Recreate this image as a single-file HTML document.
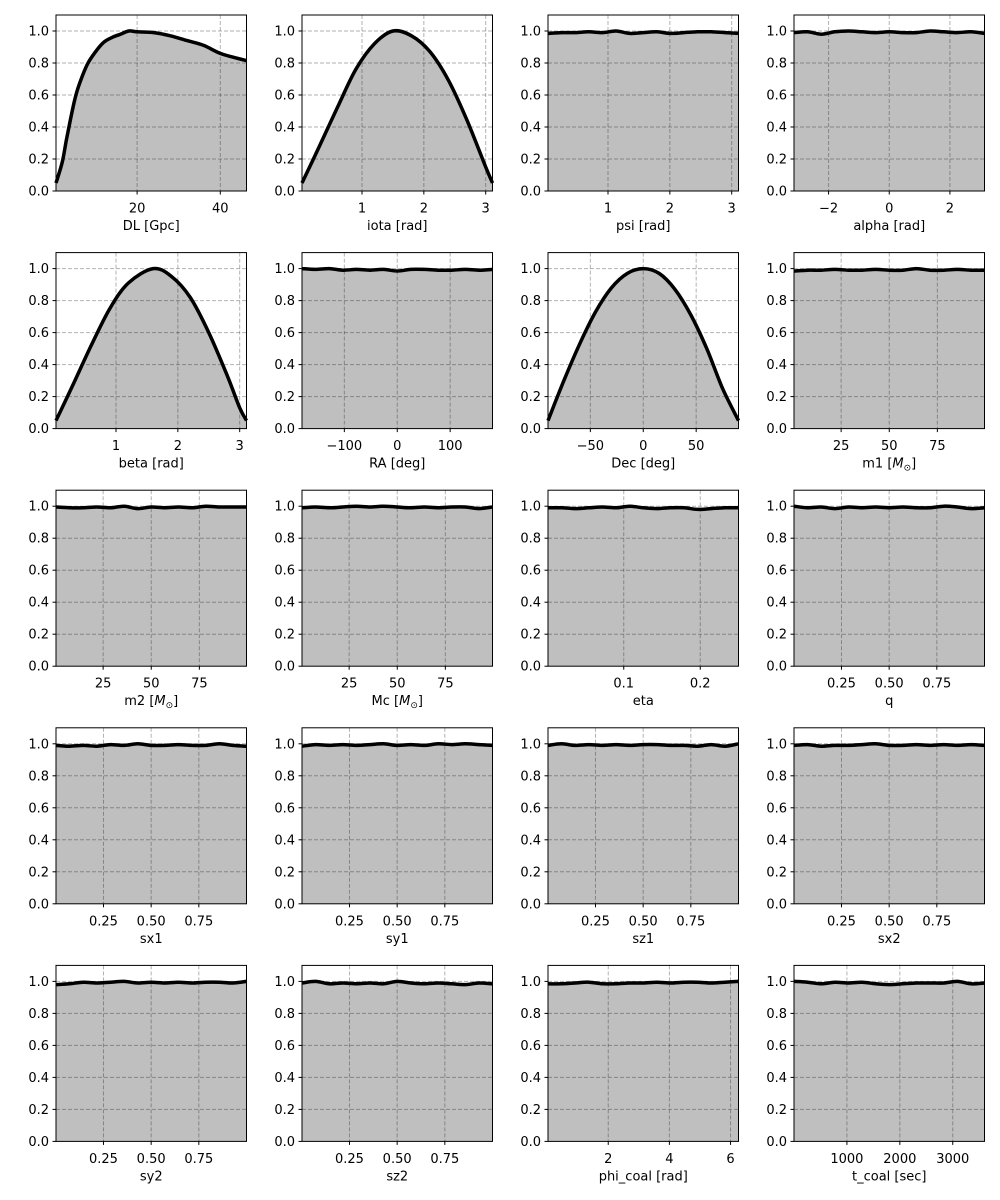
<!DOCTYPE html>
<html><head><meta charset="utf-8">
<style>
html,body{margin:0;padding:0;background:#fff;}
svg{display:block;font-family:"DejaVu Sans","Liberation Sans",sans-serif;}
</style></head>
<body>
<svg id="fig" width="1000" height="1200" viewBox="0 0 1000 1200" xmlns="http://www.w3.org/2000/svg"></svg>
<script>
// ---- data ----
const panelLabels = ["DL [Gpc]","iota [rad]","psi [rad]","alpha [rad]","beta [rad]","RA [deg]","Dec [deg]","m1","m2","Mc","eta","q","sx1","sy1","sz1","sx2","sy2","sz2","phi_coal [rad]","t_coal [sec]"];
const panelDomains = [[0.5,46.3],[0.03,3.11],[0.03,3.11],[-3.14,3.14],[0.03,3.11],[-180,180],[-90,90],[0.5,99.5],[0.5,99.5],[0.5,99.5],[0.001,0.25],[0.001,1],[0.001,1],[0.001,1],[0.001,1],[0.001,1],[0.001,1],[0.001,1],[0.03,6.26],[0,3600]];
const panelTicks = [[20,40],[1,2,3],[1,2,3],[-2,0,2],[1,2,3],[-100,0,100],[-50,0,50],[25,50,75],[25,50,75],[25,50,75],[0.1,0.2],[0.25,0.5,0.75],[0.25,0.5,0.75],[0.25,0.5,0.75],[0.25,0.5,0.75],[0.25,0.5,0.75],[0.25,0.5,0.75],[0.25,0.5,0.75],[2,4,6],[1000,2000,3000]];
const panelTickText = [["20","40"],["1","2","3"],["1","2","3"],["\u22122","0","2"],["1","2","3"],["\u2212100","0","100"],["\u221250","0","50"],["25","50","75"],["25","50","75"],["25","50","75"],["0.1","0.2"],["0.25","0.50","0.75"],["0.25","0.50","0.75"],["0.25","0.50","0.75"],["0.25","0.50","0.75"],["0.25","0.50","0.75"],["0.25","0.50","0.75"],["0.25","0.50","0.75"],["2","4","6"],["1000","2000","3000"]];
const dlX = [0.5,2,3,4,5,6,8,10,12,14,16,18,20,24,28,32,36,40,44,46.3];
const dlY = [0.05,0.18,0.32,0.45,0.57,0.66,0.79,0.87,0.93,0.96,0.98,1.0,0.995,0.99,0.97,0.94,0.91,0.86,0.83,0.815];
const iotaX = [0.03,0.3,0.6,0.9,1.2,1.5,1.8,2.1,2.4,2.7,3.0,3.11];
const iotaY = [0.05,0.27,0.52,0.76,0.92,1.0,0.97,0.87,0.69,0.44,0.15,0.05];
const betaX = [0.03,0.3,0.6,0.9,1.2,1.6,1.9,2.2,2.5,2.8,3.0,3.11];
const betaY = [0.05,0.27,0.52,0.75,0.91,1.0,0.95,0.82,0.6,0.33,0.13,0.05];
const decX = [-90,-75,-60,-45,-30,-15,0,15,30,45,60,75,90];
const decY = [0.05,0.3,0.53,0.73,0.88,0.97,1.0,0.97,0.87,0.71,0.5,0.25,0.05];
const flatY = [
 [0.985,0.99,0.99,0.995,0.99,1.0,0.985,0.99,0.995,0.985,0.99,0.995,0.995,0.99,0.985],
 [0.99,0.995,0.98,0.995,1.0,0.995,0.99,0.995,0.99,0.99,1.0,0.995,0.99,0.995,0.985],
 [1.0,0.995,1.0,0.99,0.995,0.99,0.995,0.985,0.995,0.995,0.99,0.99,0.995,0.99,0.995],
 [0.985,0.99,0.99,0.995,0.99,0.99,0.995,0.99,0.99,1.0,0.99,0.99,0.995,0.99,0.99],
 [0.995,0.99,0.99,0.995,0.99,1.0,0.985,0.995,0.99,0.995,0.99,1.0,0.995,0.995,0.995],
 [0.99,0.995,0.99,0.995,1.0,0.995,1.0,0.995,0.99,0.995,0.99,0.995,0.995,0.985,0.995],
 [0.99,0.99,0.985,0.99,0.995,0.99,1.0,0.99,0.985,0.99,0.99,0.98,0.985,0.99,0.99],
 [1.0,0.99,0.995,0.985,0.995,0.99,0.995,0.99,0.995,0.99,0.99,1.0,0.995,0.985,0.99],
 [0.99,0.985,0.99,0.985,0.995,0.99,1.0,0.99,0.99,0.995,0.99,0.99,1.0,0.99,0.985],
 [0.985,0.995,0.99,0.995,0.99,0.995,1.0,0.99,0.995,0.99,1.0,0.995,1.0,0.995,0.99],
 [0.99,1.0,0.99,0.995,0.99,0.995,0.99,0.995,0.995,0.99,0.99,0.985,0.995,0.985,1.0],
 [0.99,0.995,0.985,0.99,0.99,0.995,1.0,0.99,0.99,0.995,0.99,0.995,0.99,0.995,0.99],
 [0.98,0.985,0.995,0.99,0.995,1.0,0.99,0.995,0.99,0.995,0.99,0.995,0.995,0.99,1.0],
 [0.99,1.0,0.985,0.99,0.985,0.99,0.985,1.0,0.99,0.985,0.99,0.985,0.98,0.99,0.985],
 [0.985,0.985,0.99,0.995,0.985,0.985,0.99,0.99,0.995,0.99,0.995,0.995,0.99,0.995,1.0],
 [1.0,0.995,0.985,0.995,0.99,0.995,0.985,0.98,0.985,0.99,0.99,0.99,1.0,0.985,0.99]
];
// ---- drawing ----
const NS="http://www.w3.org/2000/svg";
const svg=document.getElementById('fig');
function mk(tag,attrs,parent){const e=document.createElementNS(NS,tag);for(const k in attrs)e.setAttribute(k,attrs[k]);(parent||svg).appendChild(e);return e;}
const colL=[56,302,548,794], W=190.5, H=176;
let flatIdx=0;
for(let i=0;i<20;i++){
  const r=Math.floor(i/4), c=i%4;
  const L=colL[c], T=15+r*237.6, B=T+H, R=L+W;
  const dom=panelDomains[i];
  const sx=v=>L+(v-dom[0])/(dom[1]-dom[0])*W;
  const sy=v=>B-v/1.1*H;
  const g=mk('g',{});
  
  
  let xs,ys;
  if(i===0){xs=dlX;ys=dlY;}
  else if(i===1){xs=iotaX;ys=iotaY;}
  else if(i===4){xs=betaX;ys=betaY;}
  else if(i===6){xs=decX;ys=decY;}
  else {ys=flatY[flatIdx++];xs=ys.map((_,k)=>dom[0]+(dom[1]-dom[0])*k/(ys.length-1));}
  const pts=xs.map((x,k)=>[sx(x),sy(ys[k])]);
  let d='M'+pts[0][0]+','+pts[0][1];
  for(let k=0;k<pts.length-1;k++){
    const p0=pts[Math.max(0,k-1)],p1=pts[k],p2=pts[k+1],p3=pts[Math.min(pts.length-1,k+2)];
    const c1=[p1[0]+(p2[0]-p0[0])/6,p1[1]+(p2[1]-p0[1])/6];
    const c2=[p2[0]-(p3[0]-p1[0])/6,p2[1]-(p3[1]-p1[1])/6];
    d+=' C'+c1[0]+','+c1[1]+' '+c2[0]+','+c2[1]+' '+p2[0]+','+p2[1];
  }
  const area=mk('path',{d:d+' L'+pts[pts.length-1][0]+','+B+' L'+pts[0][0]+','+B+' Z',fill:'#bfbfbf'},g);
  
  
  [0.2,0.4,0.6,0.8,1.0].forEach(v=>{mk('line',{x1:L,x2:R,y1:sy(v),y2:sy(v),stroke:'#000','stroke-opacity':0.3,'stroke-width':1,'stroke-dasharray':'4,2'},g);});
  panelTicks[i].forEach(v=>{mk('line',{x1:sx(v),x2:sx(v),y1:T,y2:B,stroke:'#000','stroke-opacity':0.3,'stroke-width':1,'stroke-dasharray':'4,2'},g);});
  const line=mk('path',{d:d,fill:'none',stroke:'#000','stroke-width':3.5,'stroke-linejoin':'round'},g);
  
  
  mk('rect',{x:L,y:T,width:W,height:H,fill:'none',stroke:'#000','stroke-width':1},g);
  [0,0.2,0.4,0.6,0.8,1.0].forEach(v=>{
    mk('line',{x1:L-3.5,x2:L,y1:sy(v),y2:sy(v),stroke:'#000','stroke-width':1},g);
    const t=mk('text',{x:L-7,y:sy(v)+4.5,'text-anchor':'end','font-size':13,fill:'#000'},g);
    t.textContent=v.toFixed(1);
  });
  panelTicks[i].forEach((v,k)=>{
    mk('line',{x1:sx(v),x2:sx(v),y1:B,y2:B+3.5,stroke:'#000','stroke-width':1},g);
    const t=mk('text',{x:sx(v),y:B+21.5,'text-anchor':'middle','font-size':13,fill:'#000'},g);
    t.textContent=panelTickText[i][k];
  });
  const xl=mk('text',{x:L+W/2,y:B+39,'text-anchor':'middle','font-size':13,fill:'#000'},g);
  
  
  const lab=panelLabels[i];
  if(lab==='m1'||lab==='m2'||lab==='Mc'){
    xl.textContent=lab+' [';
    const m=mk('tspan',{'font-style':'italic'},xl);m.textContent='M';
    const s=mk('tspan',{'font-size':9,dy:3},xl);s.textContent='\u2299';
    const e=mk('tspan',{dy:-3},xl);e.textContent=']';
  } else xl.textContent=lab;
}
</script>
</body></html>
